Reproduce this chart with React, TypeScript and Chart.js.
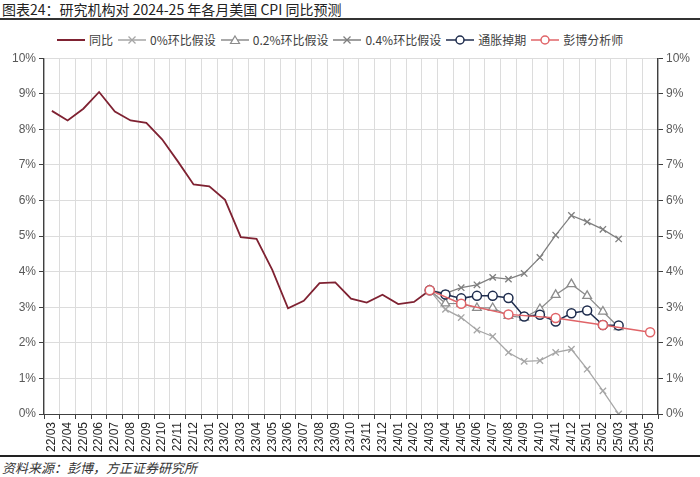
import React, { useEffect, useRef } from "react";
import { Chart, registerables } from "chart.js";
Chart.register(...registerables);

const months = [
  "22/03","22/04","22/05","22/06","22/07","22/08","22/09","22/10","22/11","22/12",
  "23/01","23/02","23/03","23/04","23/05","23/06","23/07","23/08","23/09","23/10","23/11","23/12",
  "24/01","24/02","24/03","24/04","24/05","24/06","24/07","24/08","24/09","24/10","24/11","24/12",
  "25/01","25/02","25/03","25/04","25/05",
];

const yoyActual = [
  8.52, 8.25, 8.58, 9.05, 8.5, 8.25, 8.18, 7.72, 7.1, 6.45,
  6.4, 6.02, 4.97, 4.92, 4.05, 2.97, 3.18, 3.68, 3.7, 3.24, 3.13, 3.35,
  3.09, 3.15, 3.48,
];

const lead: null[] = [null, null, null, null, null, null, null, null, null, null, null, null,
  null, null, null, null, null, null, null, null, null, null, null, null];

// from 24/03 onward
const mom0 = [3.48, 2.94, 2.71, 2.36, 2.18, 1.73, 1.48, 1.5, 1.73, 1.82, 1.26, 0.65, 0.0, null, null];
const mom02 = [3.48, 3.11, 3.1, 2.98, 2.98, 2.76, 2.71, 2.95, 3.35, 3.65, 3.32, 2.88, 2.44, null, null];
const mom04 = [3.48, 3.39, 3.55, 3.63, 3.84, 3.79, 3.95, 4.4, 5.03, 5.58, 5.4, 5.19, 4.92, null, null];
const swaps = [3.48, 3.36, 3.25, 3.32, 3.32, 3.26, 2.74, 2.79, 2.6, 2.83, 2.91, 2.5, 2.49, null, null];
const bloomberg = [3.48, null, 3.1, null, null, 2.8, null, null, 2.7, null, null, 2.5, null, null, 2.3];

const yTicks = [0, 1, 2, 3, 4, 5, 6, 7, 8, 9, 10];

const legendItems = [
  { label: "同比", color: "#7f2232", marker: "none" },
  { label: "0%环比假设", color: "#a6a6a6", marker: "x" },
  { label: "0.2%环比假设", color: "#8c8c8c", marker: "tri" },
  { label: "0.4%环比假设", color: "#7f7f7f", marker: "x" },
  { label: "通胀掉期", color: "#1f2d4e", marker: "circle" },
  { label: "彭博分析师", color: "#e06468", marker: "circle" },
];

function LegendMark({ color, marker }: { color: string; marker: string }) {
  return (
    <svg width="30" height="12" style={{ marginRight: 3 }}>
      <line x1="1" y1="6" x2="29" y2="6" stroke={color} strokeWidth={marker === "none" ? 2 : 1.5} />
      {marker === "x" && (
        <g stroke={color} strokeWidth="1.3">
          <line x1="11.5" y1="2.5" x2="18.5" y2="9.5" />
          <line x1="18.5" y1="2.5" x2="11.5" y2="9.5" />
        </g>
      )}
      {marker === "tri" && (
        <polygon points="15,2 19.5,9.5 10.5,9.5" fill="#fff" stroke={color} strokeWidth="1.2" />
      )}
      {marker === "circle" && <circle cx="15" cy="6" r="4" fill="#fff" stroke={color} strokeWidth="1.5" />}
    </svg>
  );
}

export default function App() {
  const ref = useRef<HTMLCanvasElement>(null);
  useEffect(() => {
    document.body.style.margin = "0";
    const ctx = ref.current!;
    const fc = (arr: (number | null)[]) => [...lead, ...arr];
    const chart = new Chart(ctx, {
      type: "line",
      data: {
        labels: months,
        datasets: [
          {
            label: "彭博分析师", data: fc(bloomberg), borderColor: "#e06468", backgroundColor: "#ffffff",
            borderWidth: 1.5, pointStyle: "circle", pointRadius: 4.5, pointBorderWidth: 1.5, spanGaps: true, order: 0,
          },
          {
            label: "通胀掉期", data: fc(swaps), borderColor: "#1f2d4e", backgroundColor: "#ffffff",
            borderWidth: 1.5, pointStyle: "circle", pointRadius: 4.5, pointBorderWidth: 1.5, order: 1,
          },
          {
            label: "0.4%环比假设", data: fc(mom04), borderColor: "#7f7f7f", backgroundColor: "#7f7f7f",
            borderWidth: 1.3, pointStyle: "crossRot", pointRadius: 4.5, pointBorderWidth: 1.3, order: 2,
          },
          {
            label: "0.2%环比假设", data: fc(mom02), borderColor: "#8c8c8c", backgroundColor: "#ffffff",
            borderWidth: 1.3, pointStyle: "triangle", pointRadius: 5, pointBorderWidth: 1.3, order: 3,
          },
          {
            label: "0%环比假设", data: fc(mom0), borderColor: "#a6a6a6", backgroundColor: "#a6a6a6",
            borderWidth: 1.3, pointStyle: "crossRot", pointRadius: 4.5, pointBorderWidth: 1.3, order: 4,
          },
          {
            label: "同比", data: yoyActual, borderColor: "#7f2232", borderWidth: 1.8,
            pointRadius: 0, order: 5,
          },
        ],
      },
      options: {
        animation: false,
        responsive: false,
        maintainAspectRatio: false,
        layout: { padding: { top: 8, left: 0, right: 0, bottom: 0 } },
        plugins: { legend: { display: false }, tooltip: { enabled: false } },
        scales: {
          x: {
            type: "category",
            offset: true,
            grid: { offset: true, color: "#dcdcdc", tickColor: "#404040", tickLength: 5, lineWidth: 1 },
            border: { color: "#404040", width: 1 },
            ticks: {
              autoSkip: false, maxRotation: 90, minRotation: 90, color: "#262626",
              font: { family: "Arial, 'Liberation Sans'", size: 12 }, padding: 3,
            },
            afterFit: (s: any) => { s.height = 44; },
          },
          y: {
            position: "left",
            min: 0, max: 10,
            afterBuildTicks: (s: any) => { s.ticks = yTicks.map((v) => ({ value: v })); },
            grid: { color: "#dcdcdc", tickColor: "#404040", tickLength: 5 },
            border: { color: "#404040", width: 1.3 },
            ticks: {
              color: "#595959", font: { family: "Arial, 'Liberation Sans'", size: 12 }, padding: 3,
              callback: (v: any) => v + "%",
            },
            afterFit: (s: any) => { s.width = 44; },
          },
          y2: {
            position: "right",
            min: 0, max: 10,
            afterBuildTicks: (s: any) => { s.ticks = yTicks.map((v) => ({ value: v })); },
            grid: { drawOnChartArea: false, tickColor: "#404040", tickLength: 5 },
            border: { color: "#404040", width: 1.3 },
            ticks: {
              color: "#595959", font: { family: "Arial, 'Liberation Sans'", size: 12 }, padding: 3,
              callback: (v: any) => v + "%",
            },
            afterFit: (s: any) => { s.width = 42; },
          },
        },
      },
    });
    return () => chart.destroy();
  }, []);

  return (
    <div style={{ position: "relative", width: 700, height: 477, background: "#fff", overflow: "hidden" }}>
      <div
        style={{
          position: "absolute", left: 2, top: 0, fontFamily: "'Noto Sans CJK SC', sans-serif",
          fontSize: 14, color: "#222", lineHeight: "18px", whiteSpace: "nowrap",
        }}
      >
        图表24：研究机构对 2024-25 年各月美国 CPI 同比预测
      </div>
      <div style={{ position: "absolute", left: 0, top: 18, width: 700, height: 2, background: "#333" }} />
      <div
        style={{
          position: "absolute", left: 56, top: 31, display: "flex",
          alignItems: "center", fontFamily: "'Noto Sans CJK SC', sans-serif", fontSize: 12, color: "#404040",
          whiteSpace: "nowrap",
        }}
      >
        {legendItems.map((it) => (
          <div key={it.label} style={{ display: "flex", alignItems: "center", marginRight: 4 }}>
            <LegendMark color={it.color} marker={it.marker} />
            <span>{it.label}</span>
          </div>
        ))}
      </div>
      <canvas ref={ref} width={700} height={410} style={{ position: "absolute", left: 0, top: 48, width: 700, height: 410 }} />
      <div style={{ position: "absolute", left: 0, top: 455, width: 700, height: 2, background: "#222" }} />
      <div
        style={{
          position: "absolute", left: 2, top: 458, fontFamily: "'Noto Sans CJK SC', sans-serif",
          fontSize: 13, fontStyle: "italic", color: "#333", whiteSpace: "nowrap",
        }}
      >
        资料来源：彭博，方正证券研究所
      </div>
    </div>
  );
}
